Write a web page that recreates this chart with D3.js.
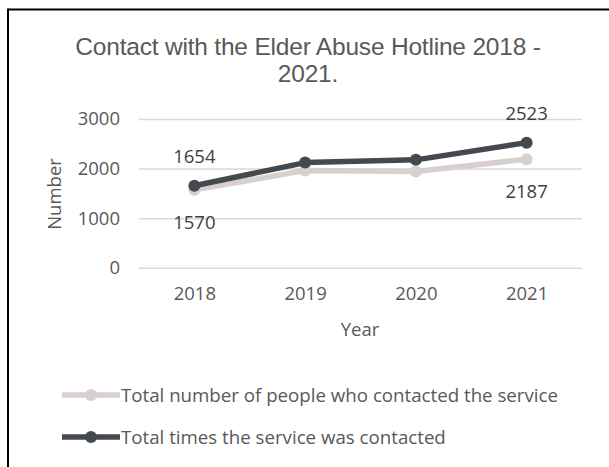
<!DOCTYPE html>
<html>
<head>
<meta charset="utf-8">
<script src="https://cdn.jsdelivr.net/npm/d3@7"></script>
<style>
  html, body { margin: 0; padding: 0; background: #fff; }
  svg { display: block; }
  text { font-family: "Open Sans", sans-serif; }
</style>
</head>
<body>
<script>
// Chart data
const years = ["2018", "2019", "2020", "2021"];
const peopleContacted = [1570, 1960, 1940, 2187];
const timesContacted = [1654, 2121, 2176, 2523];
const yTicks = [0, 1000, 2000, 3000];
const seriesNames = [
  "Total number of people who contacted the service",
  "Total times the service was contacted"
];
const titleLines = ["Contact with the Elder Abuse Hotline 2018 -", "2021."];

const W = 609, H = 467;
const svg = d3.select("body").append("svg").attr("width", W).attr("height", H);

// Frame (top and left edges)
svg.append("line").attr("x1", 8).attr("x2", W).attr("y1", 9.5).attr("y2", 9.5)
  .attr("stroke", "#000").attr("stroke-width", 2);
svg.append("line").attr("x1", 8).attr("x2", 8).attr("y1", 8.5).attr("y2", H)
  .attr("stroke", "#000").attr("stroke-width", 2);

// Title
const title = svg.append("text").attr("text-anchor", "middle")
  .attr("fill", "#595959").style("font-family", "'Liberation Sans', Arial, sans-serif")
  .style("font-size", "24.5px").style("letter-spacing", "-0.2px");
titleLines.forEach((t, i) => {
  title.append("tspan").attr("x", 308).attr("y", 55 + i * 27).text(t);
});

const x = d3.scalePoint().domain(years).range([139, 582]).padding(0.5);
const y = d3.scaleLinear().domain([0, 3000]).range([267.7, 119]);

const FS = "18.5px";

// Gridlines + y tick labels
const yAxis = d3.axisLeft(y).tickValues(yTicks).tickFormat(d3.format("d"))
  .tickSize(-(582 - 139)).tickPadding(19);
const gy = svg.append("g").attr("transform", "translate(139,0)").call(yAxis);
gy.select(".domain").remove();
gy.selectAll(".tick line").attr("stroke", "#d9d9d9").attr("stroke-width", 1.5);
gy.selectAll(".tick text").attr("fill", "#595959")
  .style("font-size", FS).style("font-family", "'Open Sans', sans-serif");

// x tick labels
const xAxis = d3.axisBottom(x).tickSize(0).tickPadding(0);
const gx = svg.append("g").attr("transform", "translate(0,287)").call(xAxis);
gx.select(".domain").remove();
gx.selectAll(".tick text").attr("fill", "#595959")
  .style("font-size", FS).style("font-family", "'Open Sans', sans-serif");

// Axis titles
svg.append("text").attr("x", 360).attr("y", 336).attr("text-anchor", "middle")
  .attr("fill", "#595959").style("font-size", FS).text("Year");
svg.append("text").attr("transform", "translate(61,194) rotate(-90)")
  .attr("text-anchor", "middle").attr("fill", "#595959")
  .style("font-size", FS).text("Number");

const colors = ["#d8d0ce", "#444950"];
const series = [peopleContacted, timesContacted];
const line = d3.line().x((d, i) => x(years[i])).y(d => y(d));

series.forEach((vals, s) => {
  svg.append("path").datum(vals).attr("d", line)
    .attr("fill", "none").attr("stroke", colors[s]).attr("stroke-width", 5.5)
    .attr("stroke-linejoin", "round");
  svg.selectAll(null).data(vals).enter().append("circle")
    .attr("cx", (d, i) => x(years[i])).attr("cy", d => y(d)).attr("r", 6)
    .attr("fill", colors[s]);
});

// Data labels at first and last points
const labelStyle = sel => sel.attr("text-anchor", "middle").attr("fill", "#404040")
  .style("font-size", FS);
[0, 3].forEach(i => {
  svg.append("text").call(labelStyle)
    .attr("x", x(years[i])).attr("y", y(timesContacted[i]) - 23)
    .text(timesContacted[i]);
  svg.append("text").call(labelStyle)
    .attr("x", x(years[i])).attr("y", y(peopleContacted[i]) + 39)
    .text(peopleContacted[i]);
});

// Legend
seriesNames.forEach((name, s) => {
  const ly = 395 + s * 42;
  const g = svg.append("g");
  g.append("line").attr("x1", 62).attr("x2", 120).attr("y1", ly).attr("y2", ly)
    .attr("stroke", colors[s]).attr("stroke-width", 5.5);
  g.append("circle").attr("cx", 91).attr("cy", ly).attr("r", 6).attr("fill", colors[s]);
  g.append("text").attr("x", 121).attr("y", ly + 6.5).attr("fill", "#595959")
    .style("font-size", "18.7px").text(name);
});
</script>
</body>
</html>
